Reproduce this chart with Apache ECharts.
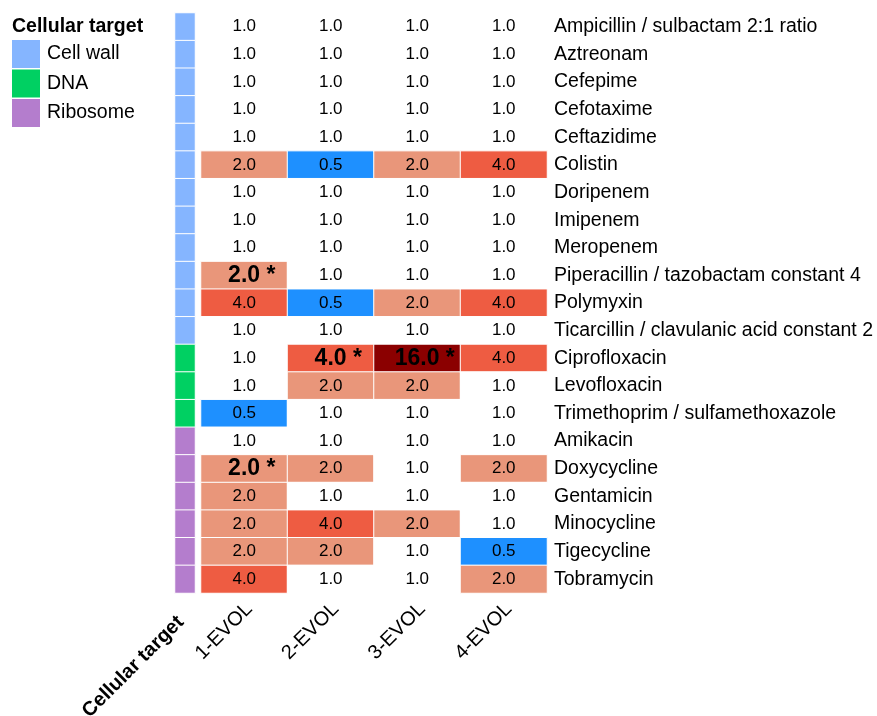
<!DOCTYPE html>
<html><head><meta charset="utf-8">
<script src="https://cdn.jsdelivr.net/npm/echarts@6/dist/echarts.min.js"></script>
<style>html,body{margin:0;padding:0;background:#fff}#c{width:877px;height:716px}</style>
</head><body><div id="c"></div>
<script>
const drugs = ['Ampicillin / sulbactam 2:1 ratio','Aztreonam','Cefepime','Cefotaxime','Ceftazidime','Colistin','Doripenem','Imipenem','Meropenem','Piperacillin / tazobactam constant 4','Polymyxin','Ticarcillin / clavulanic acid constant 2','Ciprofloxacin','Levofloxacin','Trimethoprim / sulfamethoxazole','Amikacin','Doxycycline','Gentamicin','Minocycline','Tigecycline','Tobramycin'];
const targets = ['Cell wall','Cell wall','Cell wall','Cell wall','Cell wall','Cell wall','Cell wall','Cell wall','Cell wall','Cell wall','Cell wall','Cell wall','DNA','DNA','DNA','Ribosome','Ribosome','Ribosome','Ribosome','Ribosome','Ribosome'];
const targetClasses = ['Cell wall','DNA','Ribosome'];
const lines = ['1-EVOL','2-EVOL','3-EVOL','4-EVOL'];
const evol1 = [1,1,1,1,1,2,1,1,1,2,4,1,1,1,0.5,1,2,2,2,2,4];
const evol2 = [1,1,1,1,1,0.5,1,1,1,1,0.5,1,4,2,1,1,2,1,4,2,1];
const evol3 = [1,1,1,1,1,2,1,1,1,1,2,1,16,2,1,1,1,1,2,1,1];
const evol4 = [1,1,1,1,1,4,1,1,1,1,4,1,4,1,1,1,2,1,1,0.5,2];
const sig1 = [0,0,0,0,0,0,0,0,0,1,0,0,0,0,0,0,1,0,0,0,0];
const sig2 = [0,0,0,0,0,0,0,0,0,0,0,0,1,0,0,0,0,0,0,0,0];
const sig3 = [0,0,0,0,0,0,0,0,0,0,0,0,1,0,0,0,0,0,0,0,0];
const sig4 = [0,0,0,0,0,0,0,0,0,0,0,0,0,0,0,0,0,0,0,0,0];

const FONT = "'Liberation Sans', Arial, sans-serif";
const evols = [evol1, evol2, evol3, evol4];
const sigs = [sig1, sig2, sig3, sig4];
const heatData = [];
evols.forEach((col, c) => col.forEach((v, r) => {
  const item = { value: [c, r, v], sig: sigs[c][r] };
  if (sigs[c][r]) item.label = { fontSize: 23, fontWeight: 'bold', offset: [7.5, 0] };
  heatData.push(item);
}));
const targetData = targets.map((t, r) => [0, r, targetClasses.indexOf(t)]);

const chart = echarts.init(document.getElementById('c'), null, { renderer: 'canvas' });
chart.setOption({
  animation: false,
  backgroundColor: '#fff',
  textStyle: { fontFamily: FONT, color: '#000' },
  title: { text: 'Cellular target', left: 12, top: 17, padding: 0, textStyle: { fontFamily: FONT, fontSize: 19.5, fontWeight: 'bold', color: '#000' } },
  grid: [
    { left: 175, top: 13, width: 20, height: 580, containLabel: false, outerBoundsMode: 'none' },
    { left: 201, top: 13, width: 346, height: 580, containLabel: false, outerBoundsMode: 'none' }
  ],
  xAxis: [
    { type: 'category', gridIndex: 0, data: ['Cellular target'], axisLine: { show: false }, axisTick: { show: false }, splitLine: { show: false },
      axisLabel: { rotate: 45, margin: 22, padding: [0, 6, 0, 0], fontFamily: FONT, fontSize: 20, fontWeight: 'bold', color: '#000' } },
    { type: 'category', gridIndex: 1, data: lines, axisLine: { show: false }, axisTick: { show: false }, splitLine: { show: false },
      axisLabel: { rotate: 45, margin: 18, padding: [0, -7, 0, 0], fontFamily: FONT, fontSize: 20, color: '#000' } }
  ],
  yAxis: [
    { type: 'category', gridIndex: 0, data: drugs, inverse: true, axisLine: { show: false }, axisTick: { show: false }, axisLabel: { show: false } },
    { type: 'category', gridIndex: 1, data: drugs, inverse: true, position: 'right', axisLine: { show: false }, axisTick: { show: false },
      axisLabel: { margin: 7, fontFamily: FONT, fontSize: 19.5, color: '#000' } }
  ],
  visualMap: [
    { type: 'piecewise', seriesIndex: 1, dimension: 2, show: false,
      pieces: [
        { value: 0.5, color: '#1E90FF' },
        { value: 1, color: '#FFFFFF' },
        { value: 2, color: '#E9967A' },
        { value: 4, color: '#EE5C42' },
        { value: 16, color: '#8B0000' }
      ] },
    { type: 'piecewise', seriesIndex: 0, dimension: 2, show: true, orient: 'vertical', inverse: true, left: 12, top: 40, padding: 0,
      itemWidth: 28, itemHeight: 28, itemGap: 1.5, itemSymbol: 'rect', textGap: 7, selectedMode: false,
      textStyle: { fontFamily: FONT, fontSize: 19.5, color: '#000' },
      pieces: [
        { value: 0, label: targetClasses[0], color: '#85B5FF' },
        { value: 1, label: targetClasses[1], color: '#00D062' },
        { value: 2, label: targetClasses[2], color: '#B47DCD' }
      ] }
  ],
  series: [
    { type: 'heatmap', xAxisIndex: 0, yAxisIndex: 0, data: targetData,
      itemStyle: { borderColor: '#fff', borderWidth: 1 }, label: { show: false }, emphasis: { disabled: true } },
    { type: 'heatmap', xAxisIndex: 1, yAxisIndex: 1, data: heatData,
      itemStyle: { borderColor: '#fff', borderWidth: 1 }, emphasis: { disabled: true },
      label: { show: true, fontFamily: FONT, fontSize: 17, color: '#000',
        formatter: p => p.value[2].toFixed(1) + (p.data.sig ? ' *' : '') } }
  ]
});
</script></body></html>
